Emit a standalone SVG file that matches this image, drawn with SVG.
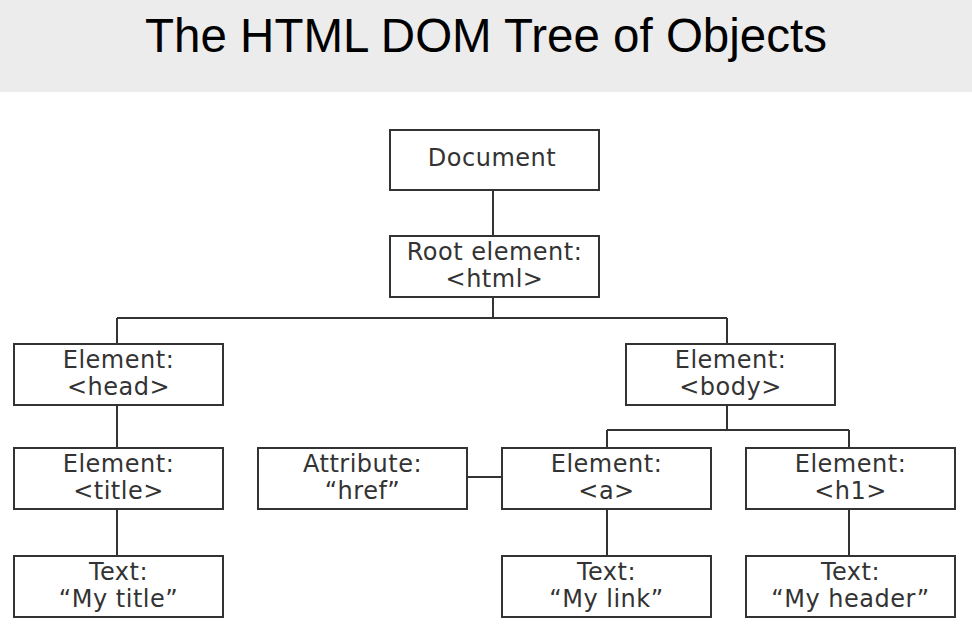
<svg xmlns="http://www.w3.org/2000/svg" width="972" height="628" viewBox="0 0 972 628">
<style>
.box{fill:#fff;stroke:#333;stroke-width:2}
.lbl{font-family:"DejaVu Sans",Verdana,sans-serif;font-size:24px;letter-spacing:0.5px;fill:#333;text-anchor:middle}
.con{fill:none;stroke:#333;stroke-width:2}
.title{font-family:"Liberation Sans",Arial,sans-serif;font-size:47.5px;fill:#000;text-anchor:middle}
</style>
<rect x="0" y="0" width="972" height="92" fill="#ececec"/>
<text class="title" x="486" y="52">The HTML DOM Tree of Objects</text>
<g id="connectors">
<path class="con" d="M493,190V236"/>
<path class="con" d="M493,297V318M117,318H727M117,318V344M727,318V344"/>
<path class="con" d="M117,405V448M117,509V556"/>
<path class="con" d="M727,405V430M607,430H849M607,430V448M849,430V448"/>
<path class="con" d="M467,477H502"/>
<path class="con" d="M607,509V556M849,509V556"/>
</g>
<g id="document"><rect class="box" x="390" y="130" width="209" height="60"/><text class="lbl" x="492" y="166">Document</text></g>
<g id="root"><rect class="box" x="390" y="236" width="209" height="61"/><text class="lbl" x="494.5" y="260">Root element:</text><text class="lbl" x="494.5" y="287">&lt;html&gt;</text></g>
<g id="head"><rect class="box" x="14" y="344" width="209" height="61"/><text class="lbl" x="118.5" y="368">Element:</text><text class="lbl" x="118.5" y="395">&lt;head&gt;</text></g>
<g id="body"><rect class="box" x="626" y="344" width="209" height="61"/><text class="lbl" x="730.5" y="368">Element:</text><text class="lbl" x="730.5" y="395">&lt;body&gt;</text></g>
<g id="title"><rect class="box" x="14" y="448" width="209" height="61"/><text class="lbl" x="118.5" y="472">Element:</text><text class="lbl" x="118.5" y="499">&lt;title&gt;</text></g>
<g id="href"><rect class="box" x="258" y="448" width="209" height="61"/><text class="lbl" x="362.5" y="472">Attribute:</text><text class="lbl" x="362.5" y="499">“href”</text></g>
<g id="a"><rect class="box" x="502" y="448" width="209" height="61"/><text class="lbl" x="606.5" y="472">Element:</text><text class="lbl" x="606.5" y="499">&lt;a&gt;</text></g>
<g id="h1"><rect class="box" x="746" y="448" width="209" height="61"/><text class="lbl" x="850.5" y="472">Element:</text><text class="lbl" x="850.5" y="499">&lt;h1&gt;</text></g>
<g id="text-title"><rect class="box" x="14" y="556" width="209" height="61"/><text class="lbl" x="118.5" y="580">Text:</text><text class="lbl" x="118.5" y="607">“My title”</text></g>
<g id="text-link"><rect class="box" x="502" y="556" width="209" height="61"/><text class="lbl" x="606.5" y="580">Text:</text><text class="lbl" x="606.5" y="607">“My link”</text></g>
<g id="text-header"><rect class="box" x="746" y="556" width="209" height="61"/><text class="lbl" x="850.5" y="580">Text:</text><text class="lbl" x="850.5" y="607">“My header”</text></g>
</svg>
